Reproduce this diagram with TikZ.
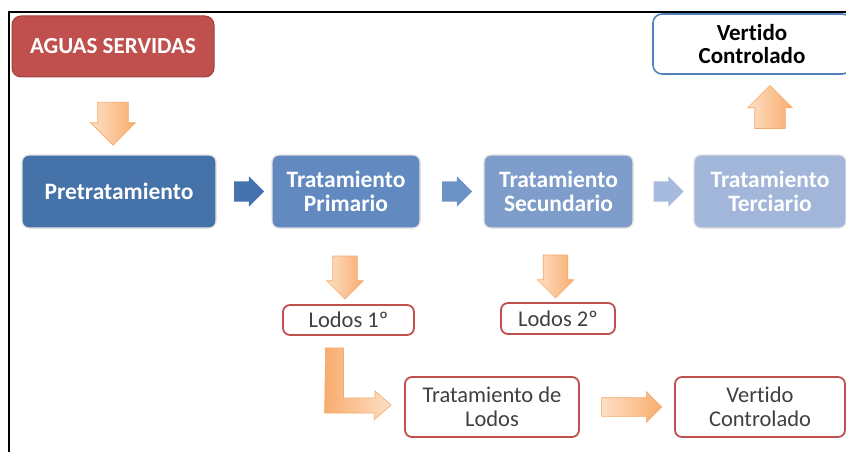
\documentclass[tikz,border=0pt]{standalone}
\usepackage{fontspec}
\setmainfont{Carlito}[Ligatures=CommonOff]
\usetikzlibrary{shapes,arrows,calc}
\definecolor{aguasred}{RGB}{192,80,77}
\definecolor{aguasline}{RGB}{160,64,62}
\definecolor{blueA}{RGB}{70,114,170}
\definecolor{blueB}{RGB}{98,137,192}
\definecolor{blueC}{RGB}{127,157,203}
\definecolor{blueD}{RGB}{162,182,217}
\definecolor{arrowA}{RGB}{69,114,175}
\definecolor{arrowB}{RGB}{109,146,197}
\definecolor{arrowC}{RGB}{166,187,221}
\definecolor{vertline}{RGB}{79,129,189}
\definecolor{lodoline}{RGB}{192,80,77}
\definecolor{orlight}{RGB}{253,224,196}
\definecolor{ordark}{RGB}{248,172,110}
\definecolor{orline}{RGB}{244,170,108}
\definecolor{txtgray}{RGB}{64,64,64}
\tikzstyle{start} = [rectangle, rounded corners=9pt, draw=aguasline, line width=1pt, fill=aguasred,
text=white, font=\fontsize{23}{25}\selectfont\bfseries, minimum width=202pt, minimum height=61pt]
\tikzstyle{stage} = [rectangle, rounded corners=7pt, draw=black!12, line width=1.2pt, text=white,
align=center, font=\fontsize{23.5}{24}\selectfont\bfseries, minimum height=73pt]
\tikzstyle{outblue} = [rectangle, rounded corners=9pt, draw=vertline, line width=1.6pt, fill=white,
align=center, font=\fontsize{23}{23.5}\selectfont\bfseries, minimum width=198pt, minimum height=60pt]
\tikzstyle{sludge} = [rectangle, rounded corners=7pt, draw=lodoline, line width=1.8pt, fill=white,
text=txtgray, align=center, inner sep=2pt, font=\fontsize{22.5}{23.5}\selectfont]
\tikzstyle{bluearrow} = [single arrow, draw=none, inner xsep=0pt, inner ysep=10pt,
single arrow head extend=5pt, minimum width=1pt, minimum height=30pt]
\tikzstyle{orarrow} = [single arrow, draw=orline, line width=0.6pt, inner xsep=0pt, inner ysep=15pt,
left color=orlight, right color=ordark, single arrow head extend=7pt, minimum width=1pt, minimum height=43pt]

\begin{document}
\begin{tikzpicture}[x=1pt, y=-1pt]
				\useasboundingbox (0,0) rectangle (846,452);
				\draw[line width=2.5pt] (9,452) -- (9,12) -- (846,12);
				% Place nodes
				\node (aguas) [start] at (113,46.5) {AGUAS SERVIDAS};
				\node (pre) [stage, fill=blueA, minimum width=194pt] at (119,191.5) {Pretratamiento};
				\node (prim) [stage, fill=blueB, minimum width=148pt] at (346,191.5) {Tratamiento\\Primario};
				\node (sec) [stage, fill=blueC, minimum width=149pt] at (558.5,191.5) {Tratamiento\\Secundario};
				\node (ter) [stage, fill=blueD, minimum width=152pt] at (770,191.5) {Tratamiento\\Terciario};
				\node (vtop) [outblue] at (752,44) {Vertido\\Controlado};
				\node (lodos1) [sludge, minimum width=131pt, minimum height=30pt] at (348.5,320) {Lodos 1º};
				\node (lodos2) [sludge, minimum width=114pt, minimum height=31pt] at (558,318.5) {Lodos 2º};
				\node (tlodos) [sludge, minimum width=174pt, minimum height=60pt] at (492,407) {Tratamiento de\\Lodos};
				\node (vbot) [sludge, minimum width=170pt, minimum height=60pt] at (760,407) {Vertido\\Controlado};
				
				% Place arrows
				\node (a0) [orarrow, rotate=-90] at ($(aguas.south)!0.5!(aguas.south |- pre.north)$) {};
				\node (a1) [bluearrow, fill=arrowA] at ($(pre.east)!0.5!(prim.west)$) {};
				\node (a2) [bluearrow, fill=arrowB] at ($(prim.east)!0.5!(sec.west)$) {};
				\node (a3) [bluearrow, fill=arrowC] at ($(sec.east)!0.5!(ter.west)$) {};
				\node (a4) [orarrow, rotate=90] at ($(ter.north)!0.5!(ter.north |- vtop.south)$) {};
				\node (a5) [orarrow, rotate=-90, inner ysep=12pt, single arrow head extend=6pt]
					at ($(prim.south)!0.5!(prim.south |- lodos1.north)+(-1,5)$) {};
				\node (a6) [orarrow, rotate=-90, inner ysep=12pt, single arrow head extend=6pt]
					at ($(sec.south)!0.5!(sec.south |- lodos2.north)+(-3,5)$) {};
				\node (a7) [orarrow, inner ysep=9pt, minimum height=60pt, single arrow head extend=6pt]
					at ($(tlodos.east)!0.5!(vbot.west)$) {};
				\draw[orline, line width=0.6pt, left color=ordark, right color=orlight]
					($(lodos1.south)+(-23,12)$) -- ++(18,0) -- ++(0,50) -- ++(31.5,0) -- ++(0,-7)
					-- ($(tlodos.west)+(-13,-2)$) -- ++(-17,15) -- ++(0,-7) -- ++(-49.5,0) -- cycle;
				
			\end{tikzpicture}
\end{document}
